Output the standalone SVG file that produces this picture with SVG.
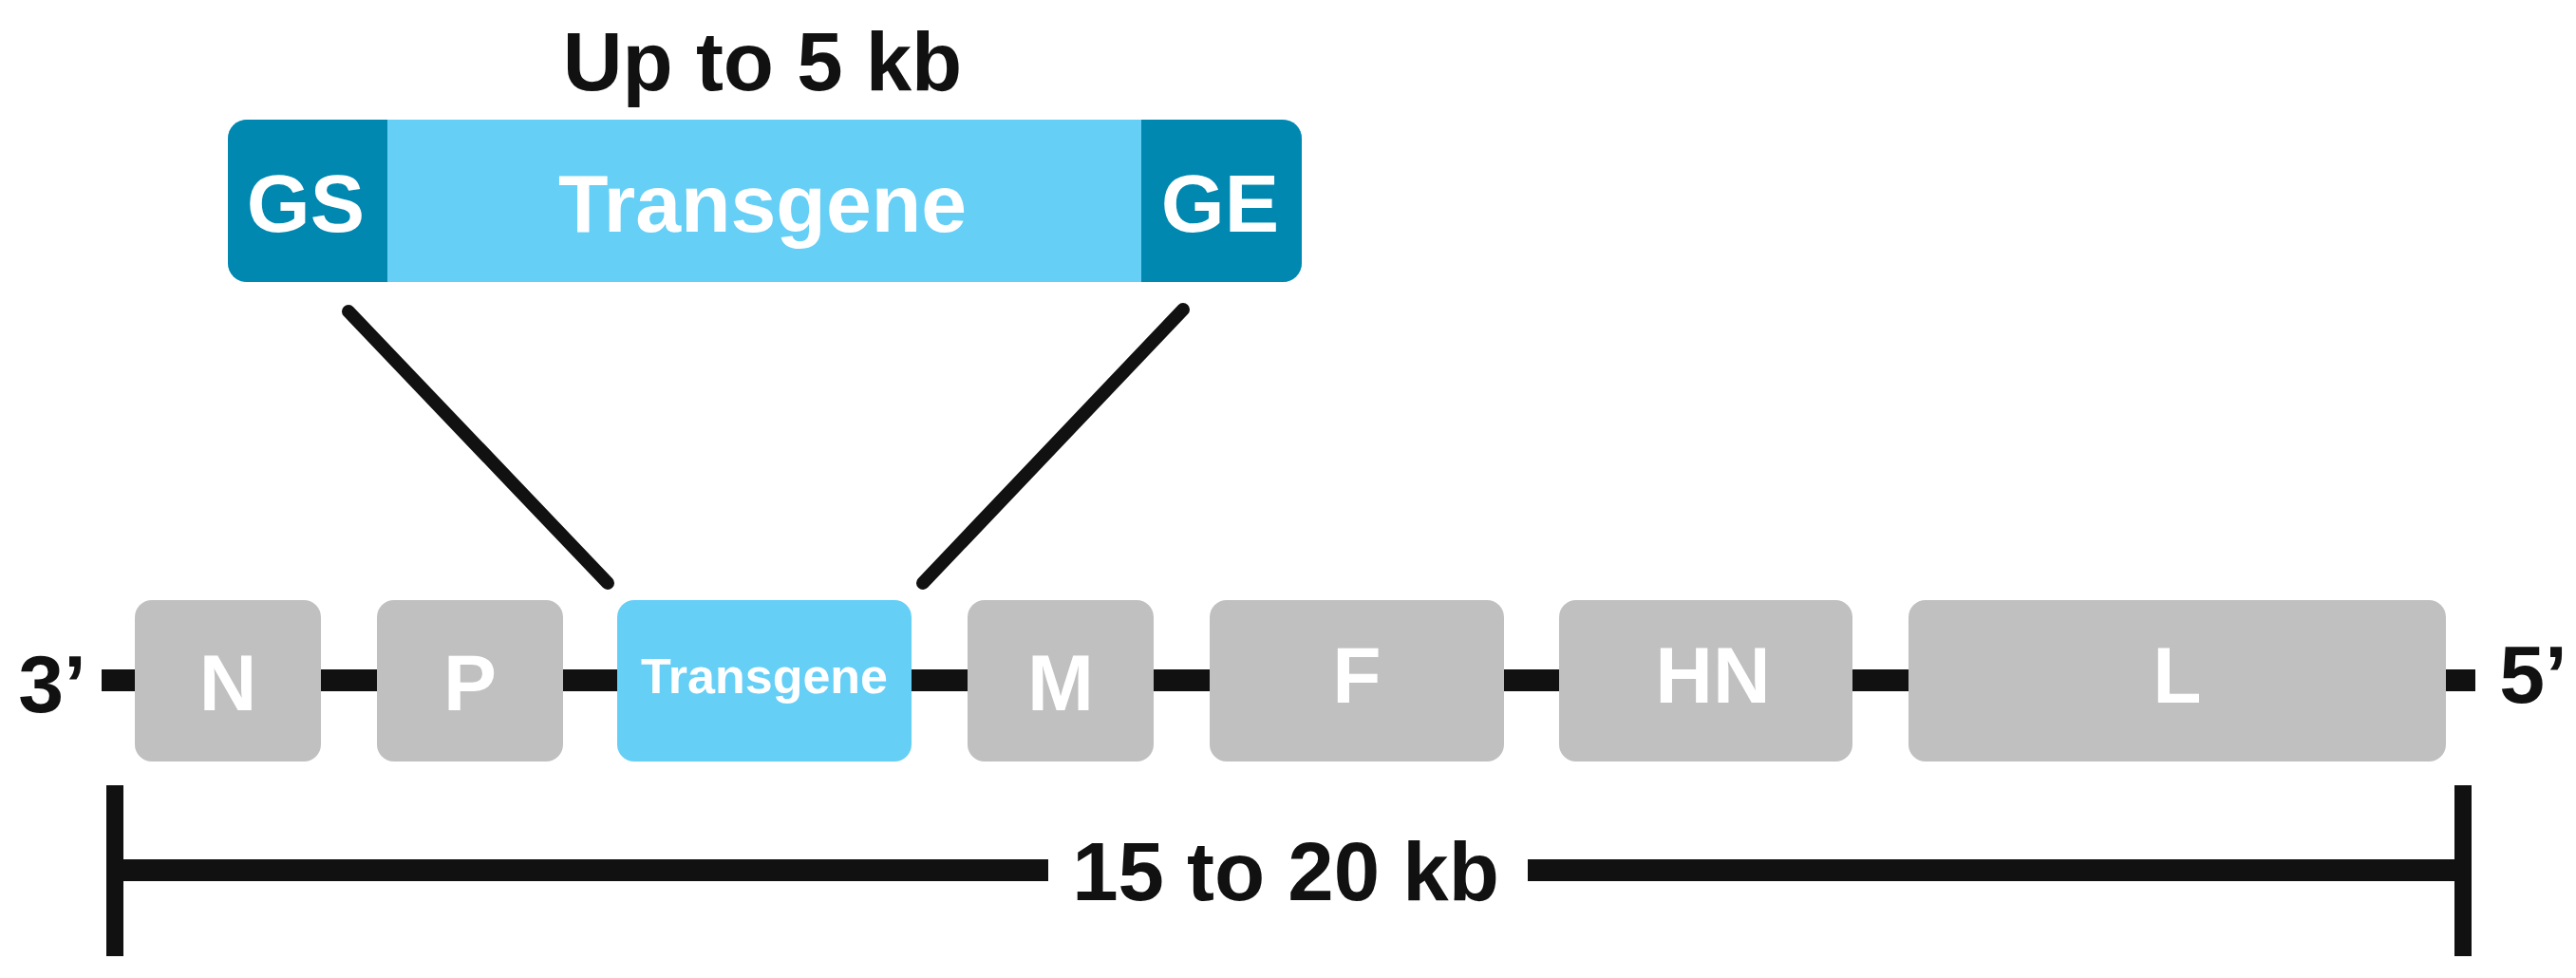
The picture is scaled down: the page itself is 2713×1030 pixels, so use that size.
<svg xmlns="http://www.w3.org/2000/svg" width="2713" height="1030" viewBox="0 0 2713 1030">
<style>
.t{font-family:"Liberation Sans",Arial,sans-serif;font-weight:bold;text-anchor:middle}
.w{fill:#ffffff}
.k{fill:#111111}
.g{font-size:84px}
.gene{fill:#c0c0c0}
.tg{fill:#66cff6}
.dk{fill:#0088b0}
.ln{stroke:#111111;fill:none}
</style>
<defs>
<clipPath id="topclip"><rect x="240" y="126" width="1131" height="171" rx="20"/></clipPath>
</defs>
<rect width="2713" height="1030" fill="#ffffff"/>
<g id="connectors">
<line class="ln" x1="107" y1="716.5" x2="2607" y2="716.5" stroke-width="23"/>
<line class="ln" x1="367" y1="328" x2="640" y2="614" stroke-width="14" stroke-linecap="round"/>
<line class="ln" x1="1246" y1="326" x2="972" y2="614" stroke-width="14" stroke-linecap="round"/>
<line class="ln" x1="121" y1="827" x2="121" y2="1007" stroke-width="18"/>
<line class="ln" x1="2594" y1="827" x2="2594" y2="1007" stroke-width="18"/>
<line class="ln" x1="121" y1="916.5" x2="1104" y2="916.5" stroke-width="23"/>
<line class="ln" x1="1609" y1="916.5" x2="2594" y2="916.5" stroke-width="23"/>
</g>
<g id="title">
<text class="t k" x="803" y="95" font-size="87">Up to 5 kb</text>
</g>
<g id="insert">
<g clip-path="url(#topclip)">
<rect class="tg" x="240" y="126" width="1131" height="171"/>
<rect class="dk" x="240" y="126" width="168" height="171"/>
<rect class="dk" x="1202" y="126" width="169" height="171"/>
</g>
<text class="t w" x="322" y="244" font-size="86">GS</text>
<text class="t w" x="803" y="244" font-size="86">Transgene</text>
<text class="t w" x="1285" y="244" font-size="86">GE</text>
</g>
<g id="end3">
<text class="t k" x="55" y="750" font-size="86">3’</text>
</g>
<g id="gene-N">
<rect class="gene" x="142" y="632" width="196" height="170" rx="18"/>
<text class="t w g" x="240" y="748">N</text>
</g>
<g id="gene-P">
<rect class="gene" x="397" y="632" width="196" height="170" rx="18"/>
<text class="t w g" x="495" y="748">P</text>
</g>
<g id="gene-Transgene">
<rect class="tg" x="650" y="632" width="310" height="170" rx="18"/>
<text class="t w" x="805" y="730" font-size="52">Transgene</text>
</g>
<g id="gene-M">
<rect class="gene" x="1019" y="632" width="196" height="170" rx="18"/>
<text class="t w g" x="1117" y="748">M</text>
</g>
<g id="gene-F">
<rect class="gene" x="1274" y="632" width="310" height="170" rx="18"/>
<text class="t w g" x="1429" y="740">F</text>
</g>
<g id="gene-HN">
<rect class="gene" x="1642" y="632" width="309" height="170" rx="18"/>
<text class="t w g" x="1804" y="740">HN</text>
</g>
<g id="gene-L">
<rect class="gene" x="2010" y="632" width="566" height="170" rx="18"/>
<text class="t w g" x="2293" y="740">L</text>
</g>
<g id="end5">
<text class="t k" x="2668" y="740" font-size="86">5’</text>
</g>
<g id="length">
<text class="t k" x="1354" y="948" font-size="87">15 to 20 kb</text>
</g>
</svg>
